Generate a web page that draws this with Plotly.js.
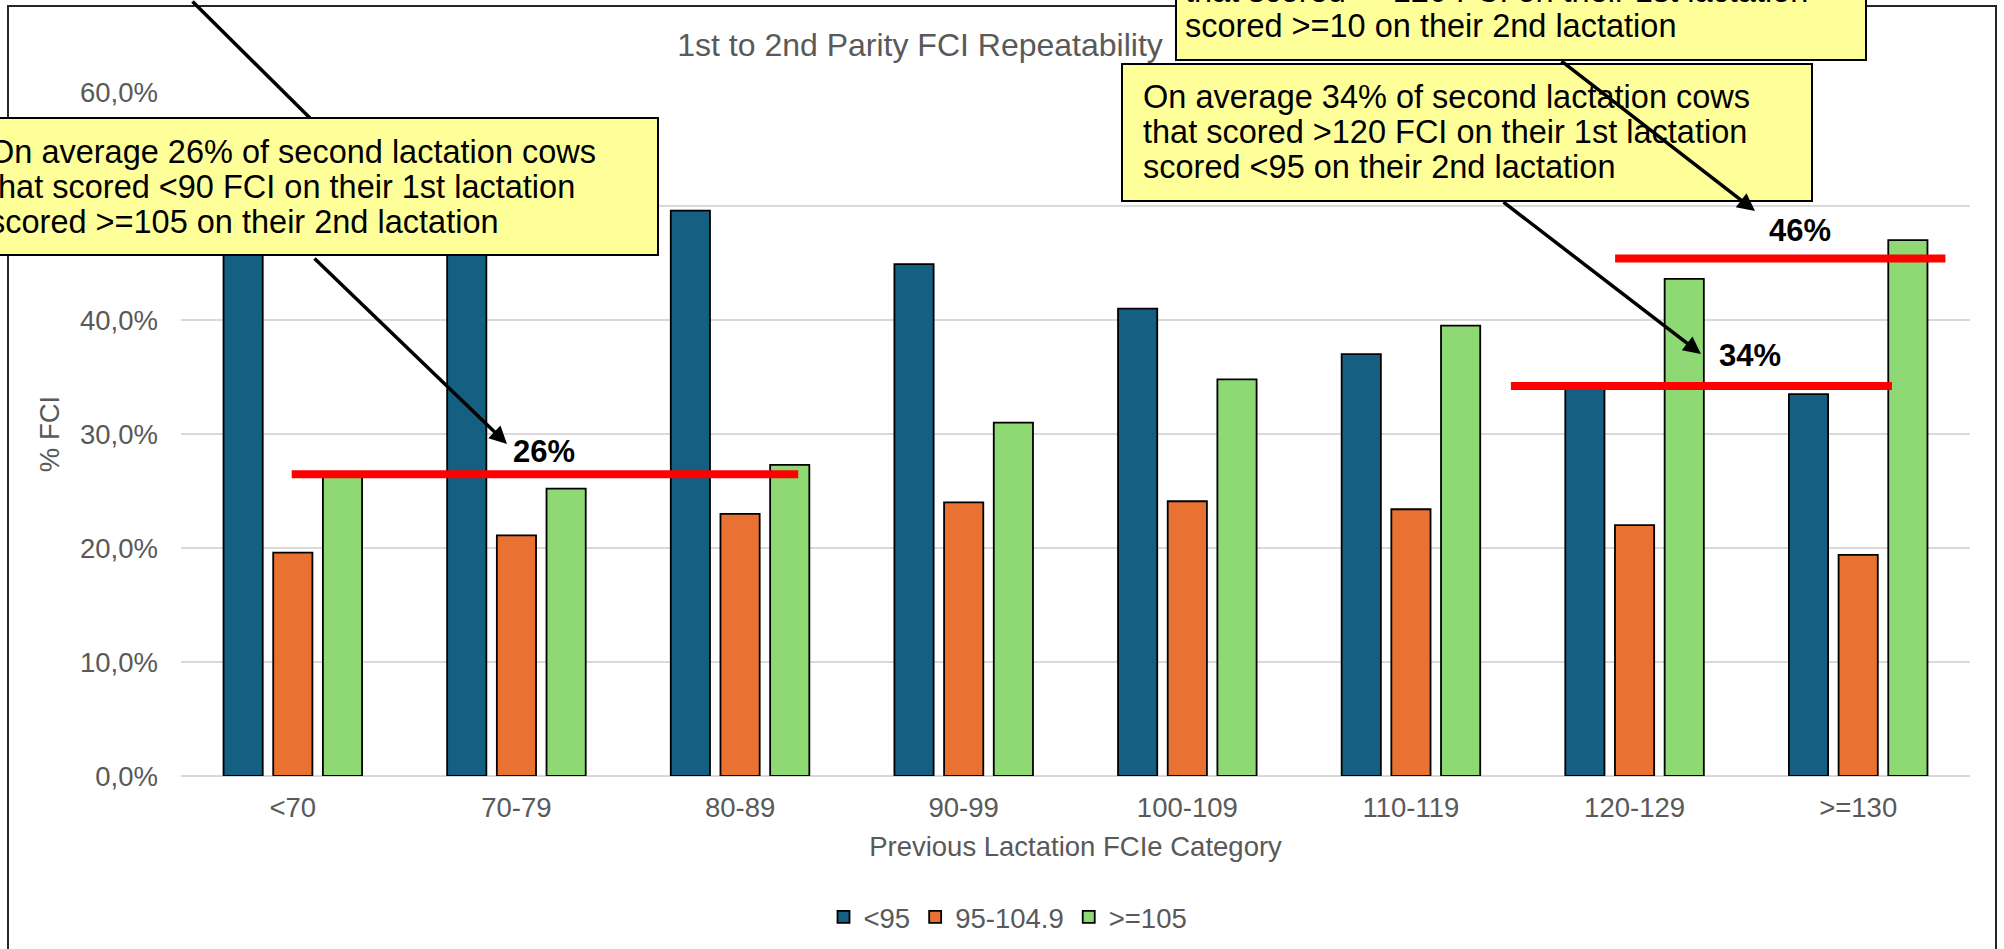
<!DOCTYPE html>
<html>
<head>
<meta charset="utf-8">
<script src="https://cdn.plot.ly/plotly-3.0.1.min.js"></script>
<style>
  html, body { margin: 0; padding: 0; background: #ffffff; overflow: hidden; }
  #chart { width: 2004px; height: 949px; }
</style>
</head>
<body>
<div id="chart"></div>
<script>
// ---------------- data ----------------
const categories = ['<70', '70-79', '80-89', '90-99', '100-109', '110-119', '120-129', '>=130'];
const seriesNames = ['<95', '95-104.9', '>=105'];
const below95 = [54.1, 53.7, 49.6, 44.9, 41.0, 37.0, 34.4, 33.5];
const mid95to105 = [19.6, 21.1, 23.0, 24.0, 24.1, 23.4, 22.0, 19.4];
const above105 = [26.3, 25.2, 27.3, 31.0, 34.8, 39.5, 43.6, 47.0];

const avgLabels = ['26%', '34%', '46%'];
const avgValues = [26.46, 34.2, 45.4];

const chartTitle = '1st to 2nd Parity FCI Repeatability';
const xTitle = 'Previous Lactation FCIe Category';
const yTitle = '% FCI';

const box1Lines = [
  'On average 26% of second lactation cows',
  'that scored <90 FCI on their 1st lactation',
  'scored >=105 on their 2nd lactation'
];
const box2Lines = [
  'On average 34% of second lactation cows',
  'that scored >120 FCI on their 1st lactation',
  'scored <95 on their 2nd lactation'
];
const box3Lines = [
  'that scored >=120 FCI on their 1st lactation',
  'scored >=10 on their 2nd lactation'
];

// ---------------- layout helpers ----------------
const W = 2004, H = 949;
const L = 181, R = 1970, T = 92, B = 776;
const px = v => (v - L) / (R - L);
const py = v => (B - v) / (B - T);

const FONT = 'Liberation Sans, Arial, sans-serif';
const GREY = '#595959';
const colors = ['#156082', '#E97132', '#8ED973'];

const traces = [below95, mid95to105, above105].map((vals, i) => ({
  type: 'bar',
  name: seriesNames[i],
  x: categories,
  y: vals,
  marker: { color: colors[i], line: { color: '#000000', width: 1.8 } },
  hoverinfo: 'skip'
}));

// shapes
const shapes = [];
// chart frame
shapes.push({ type: 'rect', xref: 'paper', yref: 'paper',
  x0: px(8), x1: px(1996), y0: py(1000), y1: py(6),
  line: { color: '#262626', width: 2 }, fillcolor: 'rgba(0,0,0,0)' });
// average red lines
const avgSpans = [[-0.005, 2.26], [5.447, 7.151], [5.913, 7.39]];
avgValues.forEach((v, i) => {
  shapes.push({ type: 'line', xref: 'x', yref: 'y',
    x0: avgSpans[i][0], x1: avgSpans[i][1], y0: v, y1: v,
    line: { color: '#FF0000', width: 8 } });
});
// callout boxes
const boxes = [
  { x0: -20, x1: 658, y0: 118, y1: 255 },
  { x0: 1122, x1: 1812, y0: 64, y1: 201 },
  { x0: 1176, x1: 1866, y0: -80, y1: 60 }
];
boxes.forEach(b => {
  shapes.push({ type: 'rect', xref: 'paper', yref: 'paper',
    x0: px(b.x0), x1: px(b.x1), y0: py(b.y1), y1: py(b.y0),
    fillcolor: '#FFFF99', line: { color: '#000000', width: 2 } });
});

// annotations
const annotations = [];
function textLines(lines, left, centers) {
  lines.forEach((t, i) => {
    annotations.push({ xref: 'paper', yref: 'paper', x: px(left), y: py(centers[i]),
      xanchor: 'left', yanchor: 'middle', text: t, showarrow: false,
      font: { family: FONT, size: 32.5, color: '#000000' } });
  });
}
textLines(box1Lines, -13, [152, 187, 222]);
textLines(box2Lines, 1141, [97, 132, 167]);
textLines(box3Lines, 1183, [-9, 26]);

const labelPos = [[1.123, 28.46], [6.518, 36.9], [6.738, 47.87]];
avgLabels.forEach((t, i) => {
  annotations.push({ xref: 'x', yref: 'y', x: labelPos[i][0], y: labelPos[i][1],
    text: '<b>' + t + '</b>', showarrow: false, xanchor: 'center', yanchor: 'middle',
    font: { family: FONT, size: 31, color: '#000000' } });
});

function arrow(tail, tip, head) {
  annotations.push({ xref: 'paper', yref: 'paper', x: px(tip[0]), y: py(tip[1]),
    ax: tail[0] - tip[0], ay: tail[1] - tip[1], axref: 'pixel', ayref: 'pixel',
    text: '', showarrow: true, arrowhead: head, arrowsize: 1, arrowwidth: 3.5,
    arrowcolor: '#000000', standoff: 0, startstandoff: 0 });
}
arrow([191, -30], [310, 118], 0);
arrow([313, 257], [507, 444], 2);
arrow([1502, 201], [1701, 354], 2);
arrow([1560, 60], [1755, 211], 2);

const layout = {
  width: W, height: H,
  margin: { l: L, r: W - R, t: T, b: H - B, autoexpand: false },
  paper_bgcolor: '#ffffff', plot_bgcolor: '#ffffff',
  separators: ',.',
  font: { family: FONT, color: GREY, size: 27.5 },
  title: { text: chartTitle, font: { family: FONT, size: 32, color: GREY },
    xref: 'container', x: 920 / W, xanchor: 'center',
    yref: 'container', y: 1 - 45 / H, yanchor: 'middle' },
  barmode: 'group', bargap: 0.3335, bargroupgap: 0.211,
  xaxis: { type: 'category', range: [-0.5, 7.5], ticks: '', showgrid: false,
    showline: false, zeroline: false, ticklabelstandoff: 12,
    tickfont: { family: FONT, size: 27.5, color: GREY },
    title: { text: xTitle, font: { family: FONT, size: 27.5, color: GREY }, standoff: 15 } },
  yaxis: { range: [0, 60], dtick: 10, tickformat: '.1f', ticksuffix: '%',
    showgrid: true, gridcolor: '#D9D9D9', gridwidth: 1.5,
    zeroline: true, zerolinecolor: '#D9D9D9', zerolinewidth: 2,
    showline: false, ticks: '', ticklabelstandoff: 22,
    tickfont: { family: FONT, size: 27.5, color: GREY },
    title: { text: yTitle, font: { family: FONT, size: 27.5, color: GREY }, standoff: 12 } },
  legend: { orientation: 'h', x: px(1008), xanchor: 'center', y: py(917), yanchor: 'middle',
    font: { family: FONT, size: 27.5, color: GREY }, itemgap: 4, bgcolor: 'rgba(0,0,0,0)' },
  showlegend: true,
  shapes: shapes,
  annotations: annotations
};

Plotly.newPlot('chart', traces, layout, { staticPlot: true, displayModeBar: false });
</script>
</body>
</html>
